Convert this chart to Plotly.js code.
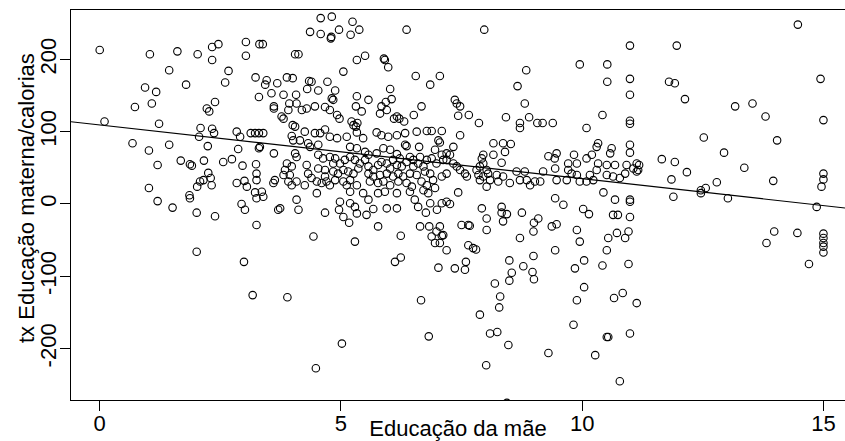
<!DOCTYPE html>
<html>
<head>
<meta charset="utf-8">
<script src="https://cdn.plot.ly/plotly-3.0.1.min.js"></script>
<style>html,body{margin:0;padding:0;background:#fff;overflow:hidden}#chart{width:845px;height:441px}</style>
</head>
<body>
<div id="chart"></div>
<script>
// Educação da mãe (x) and tx Educação materna/calorias (y)
const eduMae = [
0.00,1.04,1.61,2.03,2.33,2.46,3.03,3.03,3.31,2.33,1.44,2.67,0.94,1.17,1.79,2.60,3.23,3.30,0.73,1.08,2.22,2.27,2.39,0.10,1.23,2.09,2.33,2.37,2.06,2.84,2.91,3.13,3.22,3.30,0.68,1.02,1.44,2.24,2.87,3.30,
1.20,1.68,1.87,1.91,2.16,2.56,2.74,2.96,3.24,2.25,2.08,2.15,2.30,2.32,2.02,2.84,3.00,3.05,3.25,1.02,1.20,1.51,1.86,1.87,2.94,3.22,3.25,
2.01,2.39,3.01,3.25,2.01,2.99,3.17,
4.58,4.81,5.24,4.36,4.58,4.79,4.80,4.96,5.20,5.38,6.36,3.38,4.05,4.12,5.33,5.50,5.89,5.91,5.98,5.05,6.55,6.85,7.05,
3.46,3.68,3.88,4.00,4.34,4.39,4.72,4.88,4.53,4.30,3.43,3.56,3.81,4.07,6.02,5.33,5.57,5.93,6.05,6.67,4.81,4.84,4.67,4.46,4.29,4.08,4.19,3.93,3.91,3.61,3.61,
5.31,5.43,5.84,5.81,5.95,6.16,6.10,6.21,6.31,6.51,4.77,4.92,4.97,3.81,3.77,4.00,4.05,5.26,5.31,5.34,5.22,
3.39,4.25,4.46,4.57,4.67,3.98,4.01,4.77,5.12,5.33,5.46,5.74,5.84,5.98,6.16,6.33,6.57,6.78,6.88,7.09,7.02,7.05,6.33,6.36,6.62,6.95,7.19,
3.32,3.61,4.15,4.32,4.36,4.05,4.08,4.53,4.92,5.19,5.33,5.50,5.57,5.74,5.88,6.02,6.16,6.22,6.43,6.50,6.64,6.78,6.88,6.98,7.09,
3.25,3.63,3.60,3.36,3.39,3.88,3.98,3.84,3.94,3.81,3.91,3.98,4.08,4.29,4.32,4.39,4.25,4.50,4.60,4.70,4.77,
4.53,4.63,4.77,4.88,4.84,4.98,5.08,5.19,5.29,5.39,4.53,4.67,4.84,4.94,5.05,5.15,5.26,5.36,4.67,4.88,5.05,5.19,5.12,5.33,
5.50,5.57,5.67,5.77,5.84,5.95,6.02,6.08,6.16,6.26,6.36,6.50,6.60,6.71,5.57,5.67,5.81,5.95,6.08,6.19,6.29,6.43,6.57,6.74,6.85,
5.60,5.77,5.88,6.02,6.19,6.36,6.47,6.67,6.78,6.91,7.09,7.19,4.08,4.50,5.19,5.46,5.77,5.91,6.16,6.43,6.71,6.81,6.95,
3.74,4.98,5.19,5.57,5.95,6.16,6.53,6.85,7.09,7.19,
3.70,4.12,4.67,4.96,5.05,5.17,5.29,5.33,5.53,5.67,4.43,5.29,5.77,6.24,6.60,6.76,6.99,6.64,6.83,7.05,6.98,6.88,7.09,6.95,7.05,7.19,6.12,6.24,7.02,3.89,6.66,5.02,4.48,6.82,
7.97,10.99,9.95,10.52,10.52,10.99,10.99,8.84,8.66,8.81,7.36,7.40,7.47,7.43,7.65,7.86,8.42,8.71,8.71,8.90,9.07,9.18,9.39,10.09,10.42,10.99,10.99,
7.47,7.33,7.19,7.26,7.12,7.33,7.40,8.16,8.36,8.52,8.40,8.16,7.95,7.92,8.33,7.95,7.88,8.02,
9.30,9.47,9.43,9.83,9.71,9.89,10.09,10.20,10.30,10.33,10.58,10.61,10.33,10.51,10.68,10.92,11.13,10.99,10.99,
7.47,7.57,7.61,7.81,7.85,7.88,7.95,8.05,8.09,8.02,8.23,8.26,8.36,8.50,8.64,8.71,8.81,8.85,8.92,9.02,9.13,9.19,9.44,9.47,9.68,9.71,9.78,9.89,9.95,10.09,10.16,10.23,10.30,10.51,10.64,10.78,10.89,11.16,
7.43,7.26,7.92,8.33,9.44,9.61,10.44,10.68,10.99,10.99,
8.02,8.33,8.44,8.36,8.75,8.02,7.50,7.64,7.67,7.12,7.36,7.57,7.59,7.64,7.74,7.80,8.71,8.99,9.00,9.09,
8.49,8.78,8.99,8.97,9.00,8.54,8.49,8.19,8.30,8.28,7.88,8.09,8.24,8.47,8.01,8.44,
9.37,9.47,9.44,9.30,9.89,9.95,9.85,10.04,10.04,9.89,9.82,10.02,10.14,10.27,10.51,10.54,10.66,10.84,11.13,10.99,10.78,10.42,10.96,
10.51,10.54,10.72,10.89,10.96,10.99,10.64,10.74,
11.96,14.47,11.80,11.92,12.13,14.94,13.17,13.53,13.80,15.00,12.52,14.04,12.94,11.65,11.92,12.17,11.85,11.89,
13.36,13.96,12.79,12.46,12.56,12.46,13.02,15.00,15.00,14.96,14.86,11.18,11.13,11.06,
13.98,13.82,14.46,14.70,15.00,15.00,15.00,15.00,15.00
];
const txEduCal = [
213,207,211,207,217,221,224,205,221,199,185,184,161,155,165,168,175,148,134,139,132,128,141,114,111,105,104,98,93,100,93,98,98,98,84,74,82,80,76,77,
54,60,55,53,60,58,62,53,55,43,31,33,36,26,24,29,32,24,33,22,4,-5,12,8,0,16,8,
-12,-17,-8,-29,-66,-80,-126,
257,259,252,238,235,229,231,241,234,241,241,221,207,207,199,205,201,199,189,183,177,165,177,
171,167,175,174,170,169,169,157,157,159,165,153,151,151,159,149,144,141,145,135,146,144,134,135,132,139,130,139,130,135,132,
135,128,135,125,130,121,118,118,114,123,130,123,118,118,121,109,107,109,107,112,114,
98,100,98,98,103,94,88,93,93,99,91,99,95,93,95,98,100,101,101,101,88,85,82,80,79,75,61,
79,70,88,84,79,70,65,82,91,79,77,72,68,70,77,75,69,63,65,61,65,61,63,56,68,
42,33,29,17,10,56,52,47,40,40,31,26,31,54,42,36,26,31,29,31,26,
68,63,65,63,56,56,61,65,61,56,49,47,45,42,47,45,42,49,38,33,31,33,26,26,
61,52,47,54,58,56,49,61,54,52,58,52,56,52,42,38,40,42,38,42,38,42,40,45,42,
31,29,31,26,31,29,24,31,26,33,38,42,6,15,17,15,15,17,15,17,19,15,22,
-6,3,1,6,-6,-6,6,1,1,3,
-8,-8,-12,-8,-18,-26,-4,-13,-15,-7,-45,-52,-31,-44,-4,-12,-8,-31,-31,-31,-38,-45,-44,-54,-54,-64,-80,-74,-88,-129,-133,-193,-227,-183,
241,219,193,193,169,173,151,185,163,139,144,139,135,122,123,112,120,112,105,120,112,112,112,105,123,115,111,
95,79,70,68,61,56,52,84,84,83,72,68,68,63,57,56,52,47,
66,70,63,68,56,56,63,68,79,84,70,77,56,54,54,54,56,82,71,
47,42,38,47,40,33,38,42,33,24,40,31,38,29,45,33,45,33,26,31,31,45,49,33,33,47,42,40,31,31,40,33,47,40,38,36,42,47,
16,0,-6,-4,8,-1,16,6,6,3,
-20,-12,-14,-24,-12,-36,-29,-29,-30,-43,-89,-91,-80,-57,-61,-63,-47,-38,-26,-20,
-78,-86,-72,-94,-104,-95,-106,-110,-128,-143,-153,-179,-177,-195,-223,-275,
-31,-28,-64,-206,-36,-52,-89,-78,-115,-133,-167,-7,-14,-209,-184,-184,-130,-123,-137,-179,-245,-85,-83,
-64,-47,-40,-47,-38,-18,-15,-15,
219,248,169,167,145,173,135,139,121,116,92,88,71,62,58,44,34,10,
50,32,30,19,22,15,8,42,34,24,-4,54,45,49,
-38,-54,-40,-83,-41,-47,-54,-59,-67
];
// fitted regression line: y = intercept + slope * x
const regIntercept = 109.3;
const regSlope = -7.43;
const xTicks = [0, 5, 10, 15];
const yTicks = [-200, -100, 0, 100, 200];
const xRange = [-0.595, 15.447];
const yRange = [-271, 268.2];
const xTitle = 'Educação da mãe';
const yTitle = 'tx Educação materna/calorias';

const lineX = xRange.slice();
const lineY = lineX.map(v => regIntercept + regSlope * v);

const font = {family: '"Liberation Sans", Arial, sans-serif', size: 22, color: '#000'};
const tickFont = {family: '"Liberation Sans", Arial, sans-serif', size: 22, color: '#000'};

Plotly.newPlot('chart', [
  {
    type: 'scatter', mode: 'markers', x: eduMae, y: txEduCal,
    marker: {symbol: 'circle-open', size: 7.5, color: '#000', line: {width: 1.1, color: '#000'}},
    hoverinfo: 'skip', showlegend: false
  },
  {
    type: 'scatter', mode: 'lines', x: lineX, y: lineY,
    line: {color: '#000', width: 1.1}, hoverinfo: 'skip', showlegend: false
  }
], {
  width: 845, height: 441,
  margin: {l: 71, r: 0, t: 10, b: 41, pad: 0},
  paper_bgcolor: '#fff', plot_bgcolor: '#fff',
  font: font,
  showlegend: false,
  xaxis: {
    range: xRange, tickvals: xTicks, ticktext: xTicks.map(String),
    showgrid: false, zeroline: false,
    showline: true, mirror: true, linecolor: '#000', linewidth: 1,
    ticks: 'outside', ticklen: 10, tickcolor: '#000', tickwidth: 1,
    tickfont: tickFont, ticklabelstandoff: -6,
    title: {text: xTitle, font: font, standoff: 0}
  },
  yaxis: {
    range: yRange, tickvals: yTicks, ticktext: yTicks.map(String),
    showgrid: false, zeroline: false,
    showline: true, mirror: false, linecolor: '#000', linewidth: 1,
    ticks: 'outside', ticklen: 10, tickcolor: '#000', tickwidth: 1,
    tickangle: -90, tickfont: tickFont, ticklabelstandoff: -5
  },
  annotations: [{
    text: yTitle, textangle: -90, font: font, showarrow: false,
    xref: 'paper', yref: 'paper', x: 0, y: 0.5,
    xanchor: 'center', yanchor: 'middle', xshift: -45, yshift: 7
  }]
}, {displayModeBar: false, staticPlot: true});
</script>
</body>
</html>
